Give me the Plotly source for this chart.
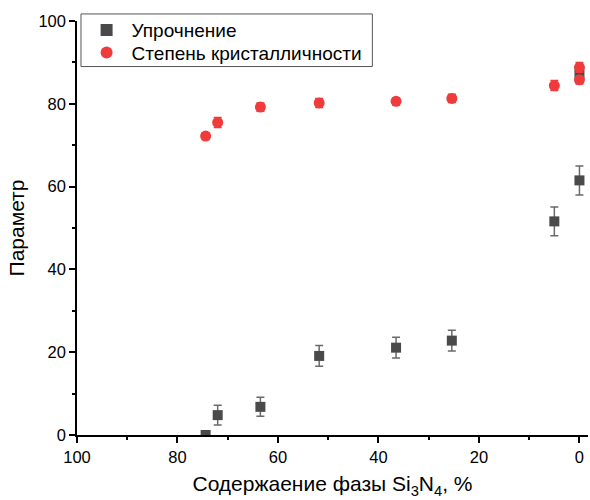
import plotly.graph_objects as go

# Data
x_str = [74.4, 72.0, 63.5, 51.8, 36.5, 25.4, 5.0, 0.0, 0.0]
y_str = [0.0, 4.8, 6.8, 19.1, 21.1, 22.8, 51.6, 61.5, 87.3]
e_str = [0.0, 2.4, 2.3, 2.5, 2.5, 2.5, 3.5, 3.5, 1.6]

x_cry = [74.4, 72.0, 63.5, 51.8, 36.5, 25.4, 5.0, 0.0, 0.0]
y_cry = [72.2, 75.5, 79.2, 80.2, 80.6, 81.3, 84.4, 85.8, 88.8]
e_cry = [0.8, 1.2, 1.0, 1.1, 0.8, 1.0, 1.2, 1.0, 1.2]

x_ticks = [100, 80, 60, 40, 20, 0]
y_ticks = [0, 20, 40, 60, 80, 100]

FONT = "Arial, Liberation Sans, sans-serif"

fig = go.Figure()
fig.add_trace(go.Scatter(
    x=x_str, y=y_str, mode="markers", name="Упрочнение", legend="legend", showlegend=True,
    marker=dict(symbol="square", size=10, color="#4a4a4a"),
    error_y=dict(type="data", array=e_str, visible=True, color="#6a6a6a", thickness=1.5, width=4),
))
fig.add_trace(go.Scatter(
    x=x_cry, y=y_cry, mode="markers", name="Степень кристалличности", legend="legend2", showlegend=True,
    marker=dict(symbol="circle", size=11, color="#ef3b3b"),
    error_y=dict(type="data", array=e_cry, visible=True, color="#ef3b3b", thickness=1.5, width=4),
))

axis_common = dict(
    showline=True, linecolor="black", linewidth=1.5, mirror=False,
    showgrid=False, zeroline=False,
    ticks="outside", ticklen=6, tickwidth=1.5, tickcolor="black",
    tickfont=dict(family=FONT, size=16.5, color="black"),
)

fig.update_xaxes(
    range=[100, -1.7], tickvals=x_ticks,
    minor=dict(ticks="outside", ticklen=3, tickwidth=1.5, tickcolor="black", dtick=10, tick0=0),
    title=dict(text="Содержаение фазы Si<sub>3</sub>N<sub>4</sub>, %", font=dict(family=FONT, size=21, color="black"), standoff=12),
    **axis_common,
)
fig.update_yaxes(
    range=[0, 100], tickvals=y_ticks,
    minor=dict(ticks="outside", ticklen=3, tickwidth=1.5, tickcolor="black", dtick=10, tick0=0),
    title=dict(text="Параметр", font=dict(family=FONT, size=21, color="black"), standoff=8),
    **axis_common,
)

leg_common = dict(
    xanchor="left", yanchor="middle", borderwidth=0, bgcolor="rgba(255,255,255,0)",
    font=dict(family=FONT, size=19, color="black"), itemwidth=40, itemsizing="constant",
    visible=True,
)

fig.update_layout(
    width=590, height=500,
    margin=dict(l=77, r=2, t=21, b=65),
    plot_bgcolor="white", paper_bgcolor="white",
    font=dict(family=FONT, size=16, color="black"),
    showlegend=True,
    legend=dict(x=0.009, y=0.978, **leg_common),
    legend2=dict(x=0.009, y=0.9235, **leg_common),
    shapes=[dict(type="rect", xref="paper", yref="paper", x0=0.0078, x1=0.578, y0=0.890, y1=1.017,
                 line=dict(color="#555555", width=1), fillcolor="rgba(0,0,0,0)", layer="above")],
)

fig.write_html("out.html")
